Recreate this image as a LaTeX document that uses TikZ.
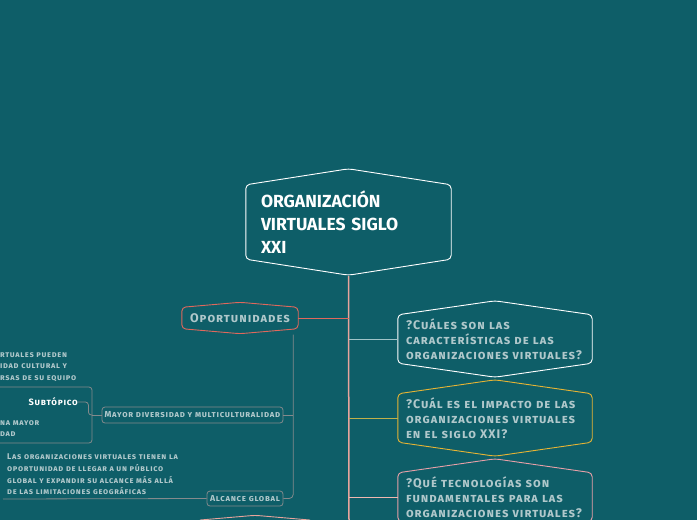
\documentclass[tikz,border=0pt]{standalone}
\usepackage{fontspec}
\setmainfont{Fira Sans}
\newfontfamily\mapfont{Fira Sans}[LetterSpace=8]
\usetikzlibrary{calc}

\definecolor{bgteal}{RGB}{14,94,104}
\definecolor{trunkpink}{RGB}{232,164,156}
\definecolor{oppred}{RGB}{224,104,92}
\definecolor{twiggrey}{RGB}{132,138,140}
\definecolor{paletext}{RGB}{176,200,203}
\definecolor{qyellow}{RGB}{230,180,52}
\definecolor{qpink}{RGB}{232,160,168}
\definecolor{linkpale}{RGB}{160,196,200}
\definecolor{linkolive}{RGB}{192,176,74}
\definecolor{linkrose}{RGB}{240,184,176}

\tikzset{
  maintopic/.style={text width=175pt, inner xsep=15pt, inner ysep=0pt,
    minimum height=74pt, align=left, text=white,
    font=\bfseries\fontsize{17.5}{23}\selectfont},
  question/.style={text width=178pt, inner xsep=8pt, inner ysep=0pt,
    minimum height=48pt, align=left, text=paletext,
    font=\mapfont\bfseries\scshape\fontsize{12.5}{15.2}\selectfont},
  opportunity/.style={minimum width=116pt, minimum height=21pt, inner sep=0pt,
    text=paletext, font=\mapfont\bfseries\scshape\fontsize{12.5}{14}\selectfont},
  subtopic/.style={draw=twiggrey, line width=0.8pt, rounded corners=3pt,
    inner sep=0pt, text=paletext, font=\mapfont\bfseries\scshape\fontsize{8.7}{11}\selectfont},
  leaftext/.style={inner sep=0pt, align=left, text=paletext,
    font=\mapfont\bfseries\scshape\fontsize{8.3}{11.7}\selectfont},
  twig/.style={draw=twiggrey, line width=0.8pt},
}

\newcommand\hexframe[3]{%
  \draw[#2, line width=0.9pt, rounded corners=4pt]
    (#1.north west) -- ([yshift=#3]#1.north) -- (#1.north east)
    -- (#1.south east) -- ([yshift=-#3]#1.south) -- (#1.south west) -- cycle;}

\begin{document}
\begin{tikzpicture}[x=1pt, y=-1pt]
  \useasboundingbox[fill=bgteal] (0,0) rectangle (697,520);

  % main topic and trunk
  \node[maintopic] (main) at (348.5,222)
    {ORGANIZACIÓN\\VIRTUALES SIGLO\\XXI};
  \hexframe{main}{white}{16pt}
  \coordinate (trunkend) at (349,520);
  \draw[trunkpink, line width=1.5pt] ([yshift=-17pt]main.south) -- (trunkend);

  % questions on the right
  \node[question] (q1) at (495,339)
    {?Cuáles son las\\características de las\\organizaciones virtuales?};
  \node[question] (q2) at (495,418)
    {?Cuál es el impacto de las\\organizaciones virtuales\\en el siglo XXI?};
  \node[question] (q3) at (495,497)
    {?Qué tecnologías son\\fundamentales para las\\organizaciones virtuales?};
  \hexframe{q1}{white}{14pt}
  \hexframe{q2}{qyellow}{14pt}
  \hexframe{q3}{qpink}{14pt}
  \draw[linkpale, line width=1pt] (q1.west -| trunkend) -- (q1.west);
  \draw[linkolive, line width=1pt] (q2.west -| trunkend) -- (q2.west);
  \draw[linkrose, line width=1pt] (q3.west -| trunkend) -- (q3.west);

  % opportunities on the left
  \node[opportunity] (opp) at (240,318) {Oportunidades};
  \hexframe{opp}{oppred}{5pt}
  \draw[oppred, line width=1pt] (opp.east) -- (opp.east -| trunkend);

  \node[subtopic, minimum width=181pt, minimum height=16pt] (mayor) at (192.5,415)
    {Mayor diversidad y multiculturalidad};
  \node[subtopic, minimum width=76pt, minimum height=15pt] (alcance) at (245,498.5)
    {Alcance global};
  \coordinate (fork) at ([shift={(-5pt,-6pt)}]opp.south east);
  \draw[twig, rounded corners=4pt] (fork) |- (alcance.east);
  \draw[twig] (mayor.east) -- (mayor.east -| fork);

  % diversity details
  \node[subtopic, minimum width=102pt, minimum height=56pt] (subbox) at (41,415) {};
  \draw[twig] (subbox.east) -- (mayor.west);
  \node[anchor=east, inner sep=0pt, text=white,
    font=\mapfont\bfseries\scshape\fontsize{9.2}{11}\selectfont] (subt) at (78,402) {Subtópico};
  \draw[twig, rounded corners=3pt] (subt.east) -- ([xshift=-4pt]subt.east -| subbox.east)
    |- (subbox.east);
  \node[leaftext, anchor=west] (divtop) at (0,367)
    {rtuales pueden\\idad cultural y\\rsas de su equipo};
  \node[leaftext, anchor=west] (divlow) at (0,428.5)
    {na mayor\\dad};

  % global reach details
  \node[leaftext, anchor=west] (alctext) at (7,474.5)
    {Las organizaciones virtuales tienen la\\oportunidad de llegar a un público\\global y expandir su alcance más allá\\de las limitaciones geográficas};
  \coordinate (alcline) at (3,499);
  \draw[twig] (alcline) -- (alcance.west);

  % next topic, cut by the edge
  \node[opportunity] (next) at (255,531) {};
  \hexframe{next}{trunkpink}{5pt}
\end{tikzpicture}
\end{document}
